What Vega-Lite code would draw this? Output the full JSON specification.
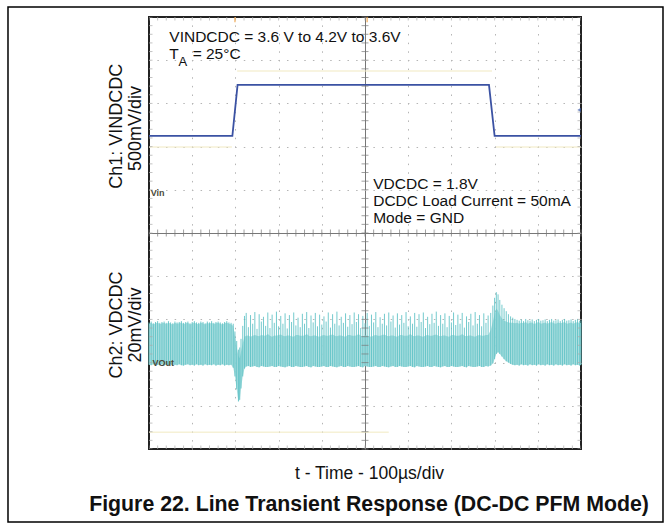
{
  "$schema": "https://vega.github.io/schema/vega-lite/v6.json",
  "width": 432,
  "height": 432,
  "autosize": {"type": "none"},
  "padding": {"left": 149, "top": 17, "right": 90, "bottom": 80},
  "background": "white",
  "config": {
    "view": {"stroke": "#222222", "strokeWidth": 2},
    "font": "Liberation Sans"
  },
  "title": {
    "text": "Figure 22. Line Transient Response (DC-DC PFM Mode)",
    "orient": "bottom",
    "anchor": "middle",
    "font": "Liberation Sans",
    "fontSize": 21.3,
    "fontWeight": "bold",
    "color": "#111111",
    "offset": -29,
    "dx": 4
  },
  "datasets": {
    "ch1": [
      {"t": 0, "v": 7.25}, {"t": 193, "v": 7.25}, {"t": 205, "v": 8.43},
      {"t": 787, "v": 8.43}, {"t": 800, "v": 7.25}, {"t": 1000, "v": 7.25}
    ],
    "ghost": [
      {"t": 204, "t2": 794, "v": 8.75},
      {"t": 0, "t2": 192, "v": 6.99},
      {"t": 803, "t2": 1000, "v": 6.99},
      {"t": 0, "t2": 555, "v": 0.39}
    ],
    "ch2": [
      {"t":0,"lo":1.95,"top":2.9,"pk":2.93},
      {"t":5,"lo":1.94,"top":2.92,"pk":2.95},
      {"t":10,"lo":1.96,"top":2.88,"pk":2.91},
      {"t":15,"lo":1.93,"top":2.91,"pk":2.94},
      {"t":20,"lo":1.95,"top":2.93,"pk":2.96},
      {"t":25,"lo":1.94,"top":2.89,"pk":2.92},
      {"t":30,"lo":1.96,"top":2.91,"pk":2.94},
      {"t":35,"lo":1.93,"top":2.92,"pk":2.95},
      {"t":40,"lo":1.95,"top":2.89,"pk":2.92},
      {"t":45,"lo":1.94,"top":2.93,"pk":2.96},
      {"t":50,"lo":1.96,"top":2.9,"pk":2.93},
      {"t":55,"lo":1.93,"top":2.88,"pk":2.91},
      {"t":60,"lo":1.95,"top":2.92,"pk":2.95},
      {"t":65,"lo":1.94,"top":2.9,"pk":2.93},
      {"t":70,"lo":1.96,"top":2.91,"pk":2.94},
      {"t":75,"lo":1.94,"top":2.93,"pk":2.96},
      {"t":80,"lo":1.93,"top":2.89,"pk":2.92},
      {"t":85,"lo":1.95,"top":2.91,"pk":2.94},
      {"t":90,"lo":1.96,"top":2.92,"pk":2.95},
      {"t":95,"lo":1.94,"top":2.88,"pk":2.91},
      {"t":100,"lo":1.95,"top":2.91,"pk":2.94},
      {"t":105,"lo":1.93,"top":2.93,"pk":2.96},
      {"t":110,"lo":1.96,"top":2.9,"pk":2.93},
      {"t":115,"lo":1.94,"top":2.89,"pk":2.92},
      {"t":120,"lo":1.95,"top":2.92,"pk":2.95},
      {"t":125,"lo":1.93,"top":2.91,"pk":2.94},
      {"t":130,"lo":1.96,"top":2.88,"pk":2.91},
      {"t":135,"lo":1.94,"top":2.92,"pk":2.95},
      {"t":140,"lo":1.95,"top":2.9,"pk":2.93},
      {"t":145,"lo":1.94,"top":2.93,"pk":2.96},
      {"t":150,"lo":1.96,"top":2.89,"pk":2.92},
      {"t":155,"lo":1.93,"top":2.91,"pk":2.94},
      {"t":160,"lo":1.95,"top":2.92,"pk":2.95},
      {"t":165,"lo":1.94,"top":2.9,"pk":2.93},
      {"t":170,"lo":1.96,"top":2.88,"pk":2.91},
      {"t":175,"lo":1.93,"top":2.91,"pk":2.94},
      {"t":180,"lo":1.95,"top":2.93,"pk":2.96},
      {"t":185,"lo":1.94,"top":2.9,"pk":2.93},
      {"t":190,"lo":1.95,"top":2.89,"pk":2.92},
      {"t":195,"lo":1.88,"top":2.85,"pk":2.9},
      {"t":199,"lo":1.68,"top":2.6,"pk":2.72},
      {"t":203,"lo":1.38,"top":2.35,"pk":2.5},
      {"t":207,"lo":1.1,"top":2.15,"pk":2.3},
      {"t":210,"lo":1.14,"top":2.1,"pk":2.35},
      {"t":213,"lo":1.4,"top":2.25,"pk":2.55},
      {"t":217,"lo":1.68,"top":2.45,"pk":2.85},
      {"t":221,"lo":1.86,"top":2.6,"pk":3.08},
      {"t":225,"lo":1.91,"top":2.62,"pk":3.15},
      {"t":230,"lo":1.92,"top":2.63,"pk":2.82},
      {"t":235,"lo":1.9,"top":2.6,"pk":3.1},
      {"t":240,"lo":1.91,"top":2.62,"pk":2.9},
      {"t":245,"lo":1.92,"top":2.64,"pk":3.17},
      {"t":250,"lo":1.9,"top":2.62,"pk":2.78},
      {"t":255,"lo":1.89,"top":2.61,"pk":3.12},
      {"t":260,"lo":1.92,"top":2.64,"pk":2.95},
      {"t":265,"lo":1.91,"top":2.63,"pk":3.06},
      {"t":270,"lo":1.9,"top":2.62,"pk":2.85},
      {"t":275,"lo":1.9,"top":2.66,"pk":3.16},
      {"t":280,"lo":1.91,"top":2.62,"pk":2.8},
      {"t":285,"lo":1.92,"top":2.6,"pk":3.11},
      {"t":290,"lo":1.9,"top":2.63,"pk":2.92},
      {"t":295,"lo":1.9,"top":2.62,"pk":3.18},
      {"t":300,"lo":1.92,"top":2.64,"pk":2.84},
      {"t":305,"lo":1.91,"top":2.65,"pk":3.08},
      {"t":310,"lo":1.9,"top":2.62,"pk":2.9},
      {"t":315,"lo":1.89,"top":2.61,"pk":3.14},
      {"t":320,"lo":1.91,"top":2.63,"pk":2.79},
      {"t":325,"lo":1.92,"top":2.63,"pk":3.1},
      {"t":330,"lo":1.9,"top":2.61,"pk":2.94},
      {"t":335,"lo":1.9,"top":2.6,"pk":3.16},
      {"t":340,"lo":1.92,"top":2.64,"pk":2.86},
      {"t":345,"lo":1.91,"top":2.64,"pk":3.04},
      {"t":350,"lo":1.9,"top":2.62,"pk":2.82},
      {"t":355,"lo":1.9,"top":2.62,"pk":3.13},
      {"t":360,"lo":1.91,"top":2.63,"pk":2.9},
      {"t":365,"lo":1.92,"top":2.66,"pk":3.17},
      {"t":370,"lo":1.9,"top":2.62,"pk":2.8},
      {"t":375,"lo":1.89,"top":2.61,"pk":3.09},
      {"t":380,"lo":1.92,"top":2.63,"pk":2.93},
      {"t":385,"lo":1.91,"top":2.63,"pk":3.15},
      {"t":390,"lo":1.9,"top":2.61,"pk":2.84},
      {"t":395,"lo":1.9,"top":2.6,"pk":3.11},
      {"t":400,"lo":1.91,"top":2.63,"pk":2.88},
      {"t":405,"lo":1.92,"top":2.64,"pk":3.07},
      {"t":410,"lo":1.9,"top":2.62,"pk":2.95},
      {"t":415,"lo":1.9,"top":2.62,"pk":3.16},
      {"t":420,"lo":1.92,"top":2.64,"pk":2.81},
      {"t":425,"lo":1.91,"top":2.65,"pk":3.12},
      {"t":430,"lo":1.9,"top":2.62,"pk":2.9},
      {"t":435,"lo":1.89,"top":2.61,"pk":3.18},
      {"t":440,"lo":1.91,"top":2.63,"pk":2.86},
      {"t":445,"lo":1.92,"top":2.63,"pk":3.06},
      {"t":450,"lo":1.9,"top":2.61,"pk":2.92},
      {"t":455,"lo":1.9,"top":2.6,"pk":3.14},
      {"t":460,"lo":1.92,"top":2.64,"pk":2.83},
      {"t":465,"lo":1.91,"top":2.64,"pk":3.1},
      {"t":470,"lo":1.9,"top":2.62,"pk":2.89},
      {"t":475,"lo":1.9,"top":2.62,"pk":3.16},
      {"t":480,"lo":1.91,"top":2.63,"pk":2.94},
      {"t":485,"lo":1.92,"top":2.66,"pk":3.12},
      {"t":490,"lo":1.9,"top":2.62,"pk":2.8},
      {"t":495,"lo":1.89,"top":2.61,"pk":3.08},
      {"t":500,"lo":1.92,"top":2.63,"pk":2.91},
      {"t":505,"lo":1.91,"top":2.63,"pk":3.15},
      {"t":510,"lo":1.9,"top":2.61,"pk":2.85},
      {"t":515,"lo":1.9,"top":2.6,"pk":3.11},
      {"t":520,"lo":1.91,"top":2.63,"pk":2.93},
      {"t":525,"lo":1.92,"top":2.64,"pk":3.17},
      {"t":530,"lo":1.9,"top":2.62,"pk":2.82},
      {"t":535,"lo":1.9,"top":2.62,"pk":3.05},
      {"t":540,"lo":1.92,"top":2.64,"pk":2.9},
      {"t":545,"lo":1.91,"top":2.65,"pk":3.13},
      {"t":550,"lo":1.9,"top":2.62,"pk":2.86},
      {"t":555,"lo":1.89,"top":2.61,"pk":3.16},
      {"t":560,"lo":1.91,"top":2.63,"pk":2.95},
      {"t":565,"lo":1.92,"top":2.63,"pk":3.09},
      {"t":570,"lo":1.9,"top":2.61,"pk":2.81},
      {"t":575,"lo":1.9,"top":2.6,"pk":3.14},
      {"t":580,"lo":1.92,"top":2.64,"pk":2.88},
      {"t":585,"lo":1.91,"top":2.64,"pk":3.1},
      {"t":590,"lo":1.9,"top":2.62,"pk":2.92},
      {"t":595,"lo":1.9,"top":2.62,"pk":3.17},
      {"t":600,"lo":1.91,"top":2.63,"pk":2.84},
      {"t":605,"lo":1.92,"top":2.66,"pk":3.07},
      {"t":610,"lo":1.9,"top":2.62,"pk":2.9},
      {"t":615,"lo":1.89,"top":2.61,"pk":3.15},
      {"t":620,"lo":1.92,"top":2.63,"pk":2.83},
      {"t":625,"lo":1.91,"top":2.63,"pk":3.12},
      {"t":630,"lo":1.9,"top":2.61,"pk":2.94},
      {"t":635,"lo":1.9,"top":2.6,"pk":3.16},
      {"t":640,"lo":1.91,"top":2.63,"pk":2.8},
      {"t":645,"lo":1.92,"top":2.64,"pk":3.06},
      {"t":650,"lo":1.9,"top":2.62,"pk":2.89},
      {"t":655,"lo":1.9,"top":2.62,"pk":3.13},
      {"t":660,"lo":1.92,"top":2.64,"pk":2.92},
      {"t":665,"lo":1.91,"top":2.65,"pk":3.18},
      {"t":670,"lo":1.9,"top":2.62,"pk":2.85},
      {"t":675,"lo":1.89,"top":2.61,"pk":3.1},
      {"t":680,"lo":1.91,"top":2.63,"pk":2.9},
      {"t":685,"lo":1.92,"top":2.63,"pk":3.14},
      {"t":690,"lo":1.9,"top":2.61,"pk":2.82},
      {"t":695,"lo":1.9,"top":2.6,"pk":3.08},
      {"t":700,"lo":1.92,"top":2.64,"pk":2.93},
      {"t":705,"lo":1.91,"top":2.64,"pk":3.16},
      {"t":710,"lo":1.9,"top":2.62,"pk":2.87},
      {"t":715,"lo":1.9,"top":2.62,"pk":3.11},
      {"t":720,"lo":1.91,"top":2.63,"pk":2.9},
      {"t":725,"lo":1.92,"top":2.66,"pk":3.15},
      {"t":730,"lo":1.9,"top":2.62,"pk":2.81},
      {"t":735,"lo":1.89,"top":2.61,"pk":3.07},
      {"t":740,"lo":1.92,"top":2.63,"pk":2.94},
      {"t":745,"lo":1.91,"top":2.63,"pk":3.13},
      {"t":750,"lo":1.9,"top":2.61,"pk":2.86},
      {"t":755,"lo":1.9,"top":2.6,"pk":3.17},
      {"t":760,"lo":1.91,"top":2.63,"pk":2.9},
      {"t":765,"lo":1.92,"top":2.64,"pk":3.1},
      {"t":770,"lo":1.9,"top":2.62,"pk":2.84},
      {"t":775,"lo":1.9,"top":2.62,"pk":3.14},
      {"t":780,"lo":1.92,"top":2.64,"pk":2.92},
      {"t":785,"lo":1.91,"top":2.64,"pk":3.09},
      {"t":791,"lo":1.93,"top":2.75,"pk":3.15},
      {"t":796,"lo":1.98,"top":2.95,"pk":3.32},
      {"t":800,"lo":2.08,"top":3.12,"pk":3.5},
      {"t":804,"lo":2.2,"top":3.25,"pk":3.63},
      {"t":808,"lo":2.24,"top":3.2,"pk":3.58},
      {"t":812,"lo":2.2,"top":3.1,"pk":3.45},
      {"t":817,"lo":2.14,"top":3.02,"pk":3.34},
      {"t":822,"lo":2.08,"top":2.97,"pk":3.26},
      {"t":827,"lo":2.03,"top":2.95,"pk":3.19},
      {"t":832,"lo":2.0,"top":2.93,"pk":3.12},
      {"t":837,"lo":1.97,"top":2.92,"pk":3.07},
      {"t":842,"lo":1.95,"top":2.92,"pk":3.04},
      {"t":847,"lo":1.94,"top":2.91,"pk":3.01},
      {"t":852,"lo":1.95,"top":2.92,"pk":2.99},
      {"t":857,"lo":1.93,"top":2.9,"pk":2.97},
      {"t":862,"lo":1.96,"top":2.93,"pk":3.0},
      {"t":867,"lo":1.94,"top":2.91,"pk":2.96},
      {"t":872,"lo":1.95,"top":2.94,"pk":3.01},
      {"t":877,"lo":1.93,"top":2.9,"pk":2.98},
      {"t":882,"lo":1.96,"top":2.92,"pk":2.97},
      {"t":887,"lo":1.94,"top":2.93,"pk":3.0},
      {"t":892,"lo":1.95,"top":2.89,"pk":2.96},
      {"t":897,"lo":1.93,"top":2.92,"pk":2.99},
      {"t":902,"lo":1.96,"top":2.94,"pk":3.01},
      {"t":907,"lo":1.94,"top":2.9,"pk":2.97},
      {"t":912,"lo":1.95,"top":2.91,"pk":2.98},
      {"t":917,"lo":1.93,"top":2.93,"pk":3.0},
      {"t":922,"lo":1.96,"top":2.9,"pk":2.96},
      {"t":927,"lo":1.94,"top":2.92,"pk":2.99},
      {"t":932,"lo":1.95,"top":2.94,"pk":3.01},
      {"t":937,"lo":1.93,"top":2.91,"pk":2.97},
      {"t":942,"lo":1.96,"top":2.9,"pk":2.98},
      {"t":947,"lo":1.94,"top":2.93,"pk":3.0},
      {"t":952,"lo":1.95,"top":2.91,"pk":2.96},
      {"t":957,"lo":1.93,"top":2.92,"pk":2.99},
      {"t":962,"lo":1.96,"top":2.94,"pk":3.01},
      {"t":967,"lo":1.94,"top":2.9,"pk":2.97},
      {"t":972,"lo":1.95,"top":2.91,"pk":2.98},
      {"t":977,"lo":1.93,"top":2.93,"pk":3.0},
      {"t":982,"lo":1.96,"top":2.9,"pk":2.96},
      {"t":987,"lo":1.94,"top":2.92,"pk":2.99},
      {"t":992,"lo":1.95,"top":2.94,"pk":3.01},
      {"t":997,"lo":1.93,"top":2.91,"pk":2.97},
      {"t":1000,"lo":1.95,"top":2.92,"pk":2.98}
    ],
    "minorT": [
      {"t":0},{"t":20},{"t":40},{"t":60},{"t":80},{"t":100},{"t":120},{"t":140},{"t":160},{"t":180},
      {"t":200},{"t":220},{"t":240},{"t":260},{"t":280},{"t":300},{"t":320},{"t":340},{"t":360},{"t":380},
      {"t":400},{"t":420},{"t":440},{"t":460},{"t":480},{"t":500},{"t":520},{"t":540},{"t":560},{"t":580},
      {"t":600},{"t":620},{"t":640},{"t":660},{"t":680},{"t":700},{"t":720},{"t":740},{"t":760},{"t":780},
      {"t":800},{"t":820},{"t":840},{"t":860},{"t":880},{"t":900},{"t":920},{"t":940},{"t":960},{"t":980},{"t":1000}
    ],
    "minorY": [
      {"v":0},{"v":0.2},{"v":0.4},{"v":0.6},{"v":0.8},{"v":1},{"v":1.2},{"v":1.4},{"v":1.6},{"v":1.8},
      {"v":2},{"v":2.2},{"v":2.4},{"v":2.6},{"v":2.8},{"v":3},{"v":3.2},{"v":3.4},{"v":3.6},{"v":3.8},
      {"v":4},{"v":4.2},{"v":4.4},{"v":4.6},{"v":4.8},{"v":5},{"v":5.2},{"v":5.4},{"v":5.6},{"v":5.8},
      {"v":6},{"v":6.2},{"v":6.4},{"v":6.6},{"v":6.8},{"v":7},{"v":7.2},{"v":7.4},{"v":7.6},{"v":7.8},
      {"v":8},{"v":8.2},{"v":8.4},{"v":8.6},{"v":8.8},{"v":9},{"v":9.2},{"v":9.4},{"v":9.6},{"v":9.8},{"v":10}
    ],
    "markers": [{"t": 199}, {"t": 505}]
  },
  "layer": [
    {
      "data": {"name": "ghost"},
      "mark": {"type": "rule", "color": "#f2ebc4", "strokeWidth": 1.5, "opacity": 0.7},
      "encoding": {
        "x": {"field": "t", "type": "quantitative"},
        "x2": {"field": "t2"},
        "y": {"field": "v", "type": "quantitative"}
      }
    },
    {
      "data": {"name": "ch2"},
      "mark": {"type": "area", "color": "#a3dcdd", "opacity": 0.9},
      "encoding": {
        "x": {
          "field": "t", "type": "quantitative",
          "scale": {"domain": [0, 1000], "nice": false, "zero": false},
          "axis": {
            "title": "t - Time - 100µs/div",
            "titleFont": "Liberation Sans",
            "titleFontSize": 17.5,
            "titleFontWeight": "normal",
            "titleColor": "#111111",
            "titlePadding": 15,
            "titleX": 220,
            "labels": false, "ticks": false, "domain": false,
            "grid": true,
            "values": [100, 200, 300, 400, 500, 600, 700, 800, 900],
            "gridColor": {"condition": {"test": "datum.value === 500", "value": "#777777"}, "value": "#b5b5b5"},
            "gridDash": {"condition": {"test": "datum.value === 500", "value": []}, "value": [1.5, 7.14]},
            "gridDashOffset": 0.75
          }
        },
        "y": {
          "field": "lo", "type": "quantitative",
          "scale": {"domain": [0, 10], "nice": false, "zero": false},
          "axis": {
            "title": null,
            "labels": false, "ticks": false, "domain": false,
            "grid": true,
            "values": [1, 2, 3, 4, 5, 6, 7, 8, 9],
            "gridColor": {"condition": {"test": "datum.value === 5", "value": "#777777"}, "value": "#b5b5b5"},
            "gridDash": {"condition": {"test": "datum.value === 5", "value": []}, "value": [1.5, 7.14]},
            "gridDashOffset": 0.75
          }
        },
        "y2": {"field": "top"}
      }
    },
    {
      "data": {"name": "ch2"},
      "mark": {"type": "rule", "color": "#5cc1c4", "strokeWidth": 1, "opacity": 0.85},
      "encoding": {
        "x": {"field": "t", "type": "quantitative"},
        "y": {"field": "lo", "type": "quantitative"},
        "y2": {"field": "pk"}
      }
    },
    {
      "data": {"name": "ch1"},
      "mark": {"type": "line", "color": "#3b52a3", "strokeWidth": 1.8},
      "encoding": {
        "x": {"field": "t", "type": "quantitative"},
        "y": {"field": "v", "type": "quantitative"}
      }
    },
    {
      "data": {"name": "minorT"},
      "mark": {"type": "tick", "orient": "vertical", "size": 7, "thickness": 1, "color": "#777777"},
      "encoding": {"x": {"field": "t", "type": "quantitative"}, "y": {"datum": 5}}
    },
    {
      "data": {"name": "minorT"},
      "mark": {"type": "tick", "orient": "vertical", "size": 7, "thickness": 1, "color": "#aaaaaa", "clip": true},
      "encoding": {"x": {"field": "t", "type": "quantitative"}, "y": {"datum": 0}}
    },
    {
      "data": {"name": "minorT"},
      "mark": {"type": "tick", "orient": "vertical", "size": 7, "thickness": 1, "color": "#aaaaaa", "clip": true},
      "encoding": {"x": {"field": "t", "type": "quantitative"}, "y": {"datum": 10}}
    },
    {
      "data": {"name": "minorY"},
      "mark": {"type": "tick", "orient": "horizontal", "size": 7, "thickness": 1, "color": "#777777"},
      "encoding": {"y": {"field": "v", "type": "quantitative"}, "x": {"datum": 500}}
    },
    {
      "data": {"name": "minorY"},
      "mark": {"type": "tick", "orient": "horizontal", "size": 7, "thickness": 1, "color": "#aaaaaa", "clip": true},
      "encoding": {"y": {"field": "v", "type": "quantitative"}, "x": {"datum": 0}}
    },
    {
      "data": {"name": "minorY"},
      "mark": {"type": "tick", "orient": "horizontal", "size": 7, "thickness": 1, "color": "#aaaaaa", "clip": true},
      "encoding": {"y": {"field": "v", "type": "quantitative"}, "x": {"datum": 1000}}
    },
    {
      "data": {"name": "markers"},
      "mark": {"type": "tick", "orient": "vertical", "size": 6, "thickness": 1.5, "color": "#f0a040", "clip": true},
      "encoding": {"x": {"field": "t", "type": "quantitative"}, "y": {"datum": 9.95}}
    },
    {
      "data": {"values": [{}]},
      "mark": {"type": "point", "shape": "triangle-left", "size": 30, "filled": true, "color": "#3b5aa8", "clip": true},
      "encoding": {"x": {"datum": 997}, "y": {"datum": 7.85}}
    },
    {
      "data": {"values": [{}]},
      "mark": {"type": "text", "text": "VINDCDC = 3.6 V to 4.2V to 3.6V", "align": "left", "baseline": "alphabetic", "fontSize": 15.5, "font": "Liberation Sans", "color": "#111111"},
      "encoding": {"x": {"datum": 47}, "y": {"datum": 9.43}}
    },
    {
      "data": {"values": [{}]},
      "mark": {"type": "text", "text": "T", "align": "left", "baseline": "alphabetic", "fontSize": 15.5, "font": "Liberation Sans", "color": "#111111"},
      "encoding": {"x": {"datum": 47}, "y": {"datum": 9.02}}
    },
    {
      "data": {"values": [{}]},
      "mark": {"type": "text", "text": "A", "align": "left", "baseline": "alphabetic", "fontSize": 13, "font": "Liberation Sans", "color": "#111111"},
      "encoding": {"x": {"datum": 68}, "y": {"datum": 8.87}}
    },
    {
      "data": {"values": [{}]},
      "mark": {"type": "text", "text": "= 25°C", "align": "left", "baseline": "alphabetic", "fontSize": 15.5, "font": "Liberation Sans", "color": "#111111"},
      "encoding": {"x": {"datum": 101}, "y": {"datum": 9.02}}
    },
    {
      "data": {"values": [{}]},
      "mark": {"type": "text", "text": "VDCDC = 1.8V", "align": "left", "baseline": "alphabetic", "fontSize": 15.5, "font": "Liberation Sans", "color": "#111111"},
      "encoding": {"x": {"datum": 519}, "y": {"datum": 6.03}}
    },
    {
      "data": {"values": [{}]},
      "mark": {"type": "text", "text": "DCDC Load Current = 50mA", "align": "left", "baseline": "alphabetic", "fontSize": 15.5, "font": "Liberation Sans", "color": "#111111"},
      "encoding": {"x": {"datum": 519}, "y": {"datum": 5.625}}
    },
    {
      "data": {"values": [{}]},
      "mark": {"type": "text", "text": "Mode = GND", "align": "left", "baseline": "alphabetic", "fontSize": 15.5, "font": "Liberation Sans", "color": "#111111"},
      "encoding": {"x": {"datum": 519}, "y": {"datum": 5.22}}
    },
    {
      "data": {"values": [{}]},
      "mark": {"type": "text", "text": "Vin", "align": "left", "baseline": "middle", "fontSize": 9, "fontWeight": "bold", "font": "Liberation Sans", "color": "#4a4a3a"},
      "encoding": {"x": {"datum": 4}, "y": {"datum": 5.93}}
    },
    {
      "data": {"values": [{}]},
      "mark": {"type": "text", "text": "VOut", "align": "left", "baseline": "middle", "fontSize": 9, "fontWeight": "bold", "font": "Liberation Sans", "color": "#4a4a3a"},
      "encoding": {"x": {"datum": 8}, "y": {"datum": 1.99}}
    },
    {
      "data": {"values": [{}]},
      "mark": {"type": "text", "text": "Ch1: VINDCDC", "angle": 270, "align": "center", "baseline": "alphabetic", "fontSize": 18, "font": "Liberation Sans", "color": "#111111"},
      "encoding": {"x": {"datum": -62.5}, "y": {"datum": 7.47}}
    },
    {
      "data": {"values": [{}]},
      "mark": {"type": "text", "text": "500mV/div", "angle": 270, "align": "center", "baseline": "alphabetic", "fontSize": 18, "font": "Liberation Sans", "color": "#111111"},
      "encoding": {"x": {"datum": -18.5}, "y": {"datum": 7.42}}
    },
    {
      "data": {"values": [{}]},
      "mark": {"type": "text", "text": "Ch2: VDCDC", "angle": 270, "align": "center", "baseline": "alphabetic", "fontSize": 18, "font": "Liberation Sans", "color": "#111111"},
      "encoding": {"x": {"datum": -62.5}, "y": {"datum": 2.87}}
    },
    {
      "data": {"values": [{}]},
      "mark": {"type": "text", "text": "20mV/div", "angle": 270, "align": "center", "baseline": "alphabetic", "fontSize": 18, "font": "Liberation Sans", "color": "#111111"},
      "encoding": {"x": {"datum": -18.5}, "y": {"datum": 2.87}}
    },
    {
      "data": {"values": [{}]},
      "mark": {"type": "rect", "fill": "transparent", "stroke": "#000000", "strokeWidth": 1.5, "clip": false},
      "encoding": {"x": {"datum": -326.4}, "x2": {"datum": 1189.8}, "y": {"datum": 10.23}, "y2": {"datum": -1.69}}
    }
  ]
}
